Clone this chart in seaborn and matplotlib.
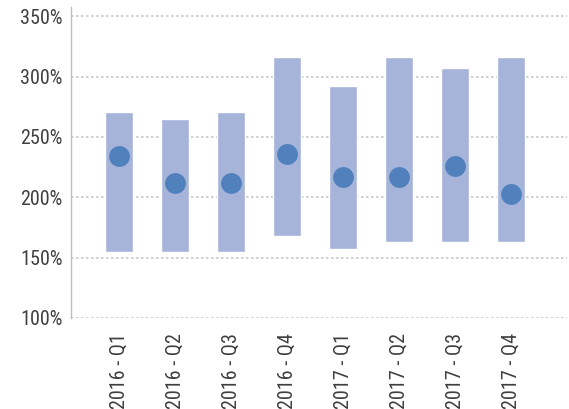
import matplotlib
matplotlib.use("Agg")
import matplotlib.pyplot as plt
from matplotlib.ticker import FuncFormatter
import pandas as pd
import seaborn as sns

quarters = ["2016 - Q1", "2016 - Q2", "2016 - Q3", "2016 - Q4",
            "2017 - Q1", "2017 - Q2", "2017 - Q3", "2017 - Q4"]
low = [155, 155, 155, 168, 157, 163, 163, 163]
high = [271, 265, 271, 316, 292, 316, 307, 316]
mid = [234, 211.5, 211.5, 236, 217, 217, 226, 203]

df = pd.DataFrame({"quarter": quarters, "low": low, "high": high, "mid": mid})
df["span"] = df["high"] - df["low"]

sns.set_style("white")
plt.rcParams["font.family"] = ["Roboto Condensed", "DejaVu Sans"]

fig = plt.figure(figsize=(5.69, 4.09), dpi=100)
ax = fig.add_axes([0.1248, 0.2225, 0.872, 0.760])

# floating bars: low -> high, dot at the middle value
sns.barplot(data=df, x="quarter", y="span", bottom=df["low"].to_numpy(),
            color="#a5b4d8", saturation=1, width=0.5, errorbar=None, ax=ax, zorder=2)
sns.stripplot(data=df, x="quarter", y="mid", jitter=False, size=15,
              color="#5181bd", linewidth=0, ax=ax, zorder=3)

ax.set_ylim(100, 357.5)
ax.set_xlim(-0.857, 8.0)
ax.set_yticks([100, 150, 200, 250, 300, 350])
ax.yaxis.set_major_formatter(FuncFormatter(lambda v, p: f"{v:.0f}%"))
ax.grid(axis="y", linestyle=(0, (1.5, 1.5)), color="#c8c8c8", linewidth=1.2, zorder=0)
ax.set_axisbelow(True)
for s in ["top", "right", "bottom"]:
    ax.spines[s].set_visible(False)
ax.spines["left"].set_color("#bfbfbf")
ax.spines["left"].set_linewidth(1)
ax.tick_params(axis="both", length=0, labelsize=14.5, colors="#404040")
ax.tick_params(axis="y", pad=6)
ax.tick_params(axis="x", pad=11)
plt.setp(ax.get_xticklabels(), rotation=90)
ax.set_xlabel("")
ax.set_ylabel("")

fig.savefig("out.png", dpi=100)
